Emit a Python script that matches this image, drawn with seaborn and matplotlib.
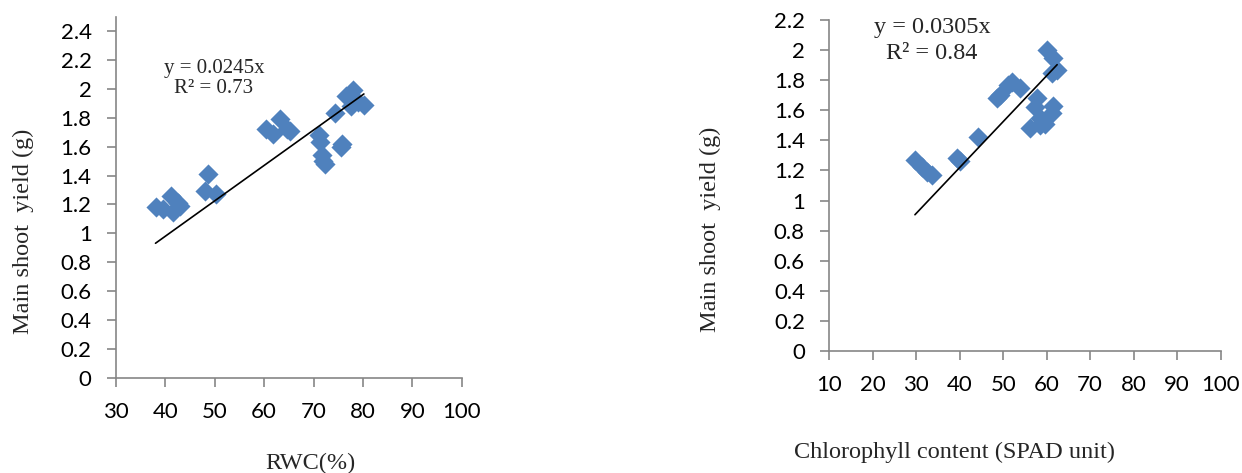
import numpy as np
import pandas as pd
import matplotlib
matplotlib.use('Agg')
import matplotlib.pyplot as plt
from matplotlib.ticker import FuncFormatter
import seaborn as sns

# left panel: RWC vs main shoot yield
rwc = [38.0, 39.5, 41.2, 41.5, 42.5, 43.0, 48.7, 48.0, 50.3, 60.3, 61.8, 63.2, 64.6, 65.3,
       71.2, 71.4, 71.7, 72.0, 72.4, 75.5, 75.7, 74.3, 76.5, 78.0, 77.6, 80.2, 79.0]
yield_rwc = [1.18, 1.17, 1.26, 1.15, 1.21, 1.19, 1.41, 1.29, 1.27, 1.72, 1.69, 1.79, 1.72, 1.71,
             1.68, 1.63, 1.54, 1.50, 1.48, 1.60, 1.62, 1.83, 1.95, 1.99, 1.88, 1.89, 1.91]
slope_rwc = 0.0245
r2_rwc = 0.73

# right panel: chlorophyll (SPAD) vs main shoot yield
chl = [29.7, 31.3, 32.4, 33.6, 39.3, 40.0, 44.2, 48.6, 49.3, 51.1, 52.0, 53.8, 56.1, 57.3,
       57.7, 58.4, 58.4, 60.0, 61.4, 61.2, 62.4, 61.4, 61.2, 59.6]
yield_chl = [1.27, 1.22, 1.19, 1.17, 1.28, 1.26, 1.42, 1.68, 1.70, 1.77, 1.79, 1.75, 1.48, 1.62,
             1.68, 1.55, 1.50, 2.00, 1.95, 1.85, 1.87, 1.63, 1.58, 1.51]
slope_chl = 0.0305
r2_chl = 0.84

blue = '#4F81BD'
grey = '#868686'

sns.set_style('white')
plt.rcParams['font.family'] = ['Lato', 'DejaVu Sans']
serif = ['Liberation Serif', 'DejaVu Serif']

fig = plt.figure(figsize=(12.42, 4.73), dpi=100)
ax1 = fig.add_axes([0.0934, 0.2015, 0.2783, 0.7632])
ax2 = fig.add_axes([0.6677, 0.2579, 0.3151, 0.6998])

def panel(ax, x, y, slope, r2, xlim, ylim, yticks, txt_xy, txt_size, txt_gap):
    df = pd.DataFrame({'x': x, 'y': y})
    sns.scatterplot(data=df, x='x', y='y', marker='D', s=105, color=blue,
                    linewidth=0, ax=ax, zorder=2)
    xs = np.array([df['x'].min(), df['x'].max()])
    sns.lineplot(x=xs, y=slope * xs, color='black', linewidth=1.2, ax=ax, zorder=3)
    ax.set_xlim(*xlim)
    ax.set_ylim(*ylim)
    ax.set_xticks(np.arange(xlim[0], 101, 10))
    ax.set_yticks(yticks)
    fmt = FuncFormatter(lambda v, p: '%g' % round(v, 2))
    ax.xaxis.set_major_formatter(fmt)
    ax.yaxis.set_major_formatter(fmt)
    for s in ['top', 'right']:
        ax.spines[s].set_visible(False)
    for s in ['left', 'bottom']:
        ax.spines[s].set_color(grey)
        ax.spines[s].set_linewidth(1.2)
    ax.tick_params(axis='both', which='major', direction='out', length=6.5, width=1.2,
                   color=grey, labelsize=16, labelcolor='black', pad=11, bottom=True, left=True)
    ax.set_xlabel('')
    ax.set_ylabel('')
    ax.text(txt_xy[0], txt_xy[1], 'y = %gx' % slope, transform=fig.transFigure,
            ha='center', va='center', fontsize=txt_size, family=serif)
    ax.text(txt_xy[0], txt_xy[1] - txt_gap, 'R² = %g' % r2, transform=fig.transFigure,
            ha='center', va='center', fontsize=txt_size, family=serif)

panel(ax1, rwc, yield_rwc, slope_rwc, r2_rwc, (30, 100), (0, 2.5),
      np.arange(0, 2.41, 0.2), (214 / 1242, 1 - 68 / 473), 15, 21 / 473)
panel(ax2, chl, yield_chl, slope_chl, r2_chl, (10, 100), (0, 2.2),
      np.arange(0, 2.21, 0.2), (932 / 1242, 1 - 28 / 473), 17.5, 25 / 473)

fig.text(310 / 1242, 1 - 463 / 473, 'RWC(%)', ha='center', va='center', fontsize=17.5, family=serif)
fig.text(954 / 1242, 1 - 452 / 473, 'Chlorophyll content (SPAD unit)', ha='center', va='center',
         fontsize=17.5, family=serif)
fig.text(23 / 1242, 1 - 231 / 473, 'Main shoot  yield (g)', rotation=90, ha='center', va='center',
         fontsize=17.5, family=serif)
fig.text(710 / 1242, 1 - 229 / 473, 'Main shoot  yield (g)', rotation=90, ha='center', va='center',
         fontsize=17.5, family=serif)

fig.savefig('out.png', dpi=100)
